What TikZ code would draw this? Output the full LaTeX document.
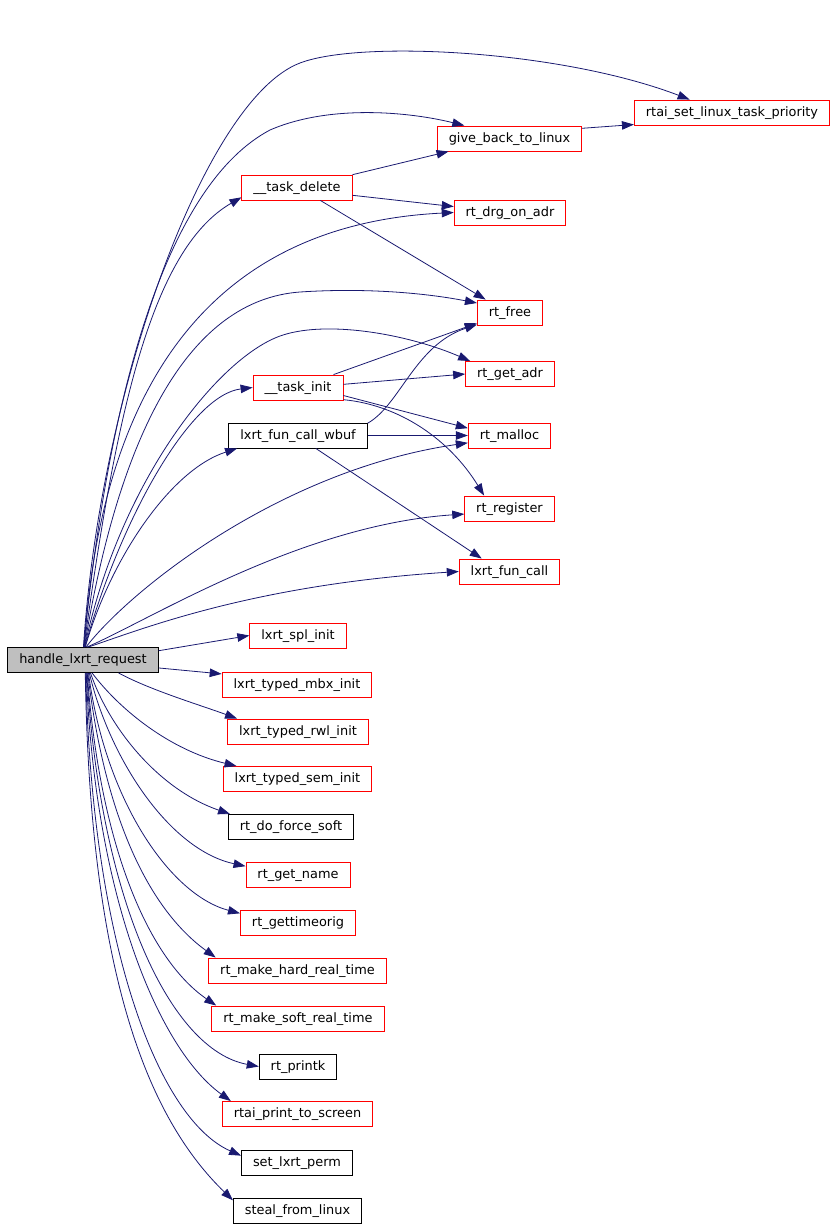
\documentclass[tikz,border=0pt]{standalone}
\usepackage{fontspec}
\setmainfont{DejaVu Sans}
\usetikzlibrary{arrows.meta}
\definecolor{CallEdge}{HTML}{191970}
\definecolor{CallTrunc}{HTML}{FF0000}
\definecolor{CallRoot}{HTML}{BFBFBF}
\definecolor{CallInk}{HTML}{000000}
\tikzset{
    cg/diagram/.style={
        x=1pt, y=-1pt,
        font=\fontsize{12.9}{15}\selectfont,
        line join=miter,
        every node/.style={inner sep=0pt}
    },
    cg/func/.style={
        draw=CallInk, fill=white, line width=0.9pt, rectangle,
        inner xsep=11.5pt, inner ysep=0pt, minimum height=25pt,
        text height=9.6pt, text depth=2.6pt
    },
    cg/trunc/.style={cg/func, draw=CallTrunc},
    cg/root/.style={cg/func, fill=CallRoot},
    cg/call/.style={
        draw=CallEdge, line width=0.8pt,
        -{Triangle[length=12pt, width=8.5pt]}
    }
}
\begin{document}
\begin{tikzpicture}[cg/diagram]
    \useasboundingbox (0,0) rectangle (837,1229);
    % caller
    \node[cg/root] (root) at (83,660) {handle\_lxrt\_request};
    % upper callees
    \node[cg/trunc] (rtaiset) at (732,112.5) {rtai\_set\_linux\_task\_priority};
    \node[cg/trunc] (giveback) at (509.5,138.5) {give\_back\_to\_linux};
    \node[cg/trunc] (taskdelete) at (297,187.5) {\_\_task\_delete};
    \node[cg/trunc] (rtdrg) at (510,212.5) {rt\_drg\_on\_adr};
    \node[cg/trunc] (rtfree) at (510,312.5) {rt\_free};
    \node[cg/trunc] (rtgetadr) at (510,374) {rt\_get\_adr};
    \node[cg/trunc] (taskinit) at (298,387.5) {\_\_task\_init};
    \node[cg/func] (wbuf) at (298,435.5) {lxrt\_fun\_call\_wbuf};
    \node[cg/trunc] (rtmalloc) at (509.5,435.5) {rt\_malloc};
    \node[cg/trunc] (rtregister) at (509.5,508.5) {rt\_register};
    \node[cg/trunc] (funcall) at (509.5,571.5) {lxrt\_fun\_call};
    % lower callees, one column
    \node[cg/trunc] (splinit) at (298,635.5) {lxrt\_spl\_init};
    \node[cg/trunc] (mbxinit) at (297,684.5) {lxrt\_typed\_mbx\_init};
    \node[cg/trunc] (rwlinit) at (298,731.5) {lxrt\_typed\_rwl\_init};
    \node[cg/trunc] (seminit) at (297.5,779) {lxrt\_typed\_sem\_init};
    \node[cg/func] (forcesoft) at (291,827) {rt\_do\_force\_soft};
    \node[cg/trunc] (getname) at (298,874.5) {rt\_get\_name};
    \node[cg/trunc] (timeorig) at (298,922.5) {rt\_gettimeorig};
    \node[cg/trunc] (makehard) at (297.5,970.5) {rt\_make\_hard\_real\_time};
    \node[cg/trunc] (makesoft) at (298,1018.5) {rt\_make\_soft\_real\_time};
    \node[cg/func] (printk) at (298,1066.5) {rt\_printk};
    \node[cg/trunc] (printscreen) at (297.5,1114) {rtai\_print\_to\_screen};
    \node[cg/func] (setperm) at (297,1162.5) {set\_lxrt\_perm};
    \node[cg/func] (steal) at (297.5,1210.5) {steal\_from\_linux};
    % calls going up from the caller
    \draw[cg/call] (root.88) .. controls (100,390) and (205,99) .. (300,63)
        .. controls (360,40) and (560,50) .. (rtaiset.163);
    \draw[cg/call] (root.87) .. controls (110,380) and (170,183) .. (270,130)
        .. controls (330,104) and (410,112) .. (giveback.164);
    \draw[cg/call] (root.86) .. controls (115,420) and (150,250) .. (taskdelete.190);
    \draw[cg/call] (root.85) .. controls (100,400) and (200,225) .. (rtdrg.west);
    \draw[cg/call] (root.84) .. controls (120,430) and (190,300) .. (300,292)
        .. controls (360,288) and (420,292) .. (rtfree.164);
    \draw[cg/call] (root.83) .. controls (120,480) and (220,355) .. (283,335)
        .. controls (330,320) and (410,335) .. (rtgetadr.162);
    \draw[cg/call] (root.82) .. controls (120,520) and (190,395) .. (taskinit.west);
    \draw[cg/call] (root.80) .. controls (110,560) and (170,470) .. (wbuf.192);
    \draw[cg/call] (root.77) .. controls (130,590) and (280,470) .. (rtmalloc.190);
    \draw[cg/call] (root.73) .. controls (150,620) and (300,525) .. (rtregister.187);
    \draw[cg/call] (root.68) .. controls (140,630) and (250,585) .. (funcall.west);
    % calls between callees
    \draw[cg/call] (giveback.8) -- (rtaiset.187);
    \draw[cg/call] (taskdelete.13) -- (giveback.192);
    \draw[cg/call] (taskdelete.352) -- (rtdrg.174);
    \draw[cg/call] (taskdelete.331) -- (rtfree.152);
    \draw[cg/call] (taskinit.20) -- (rtfree.198);
    \draw[cg/call] (taskinit.4) -- (rtgetadr.west);
    \draw[cg/call] (taskinit.350) -- (rtmalloc.170);
    \draw[cg/call] (taskinit.345) .. controls (400,405) and (450,440) .. (rtregister.153);
    \draw[cg/call] (wbuf.10) .. controls (400,405) and (415,345) .. (rtfree.200);
    \draw[cg/call] (wbuf.east) -- (rtmalloc.west);
    \draw[cg/call] (wbuf.324) -- (funcall.155);
    % calls going down from the caller
    \draw[cg/call] (root.7) -- (splinit.west);
    \draw[cg/call] (root.354) -- (mbxinit.172);
    \draw[cg/call] (root.340) .. controls (150,690) and (200,705) .. (rwlinit.168);
    \draw[cg/call] (root.305) .. controls (120,710) and (170,750) .. (seminit.168);
    \draw[cg/call] (root.300) .. controls (110,730) and (160,790) .. (forcesoft.168);
    \draw[cg/call] (root.296) .. controls (110,760) and (170,850) .. (getname.171);
    \draw[cg/call] (root.293) .. controls (105,800) and (170,895) .. (timeorig.171);
    \draw[cg/call] (root.290) .. controls (105,820) and (150,910) .. (makehard.171);
    \draw[cg/call] (root.288) .. controls (100,850) and (150,960) .. (makesoft.171);
    \draw[cg/call] (root.286) .. controls (100,900) and (170,1050) .. (printk.west);
    \draw[cg/call] (root.284) .. controls (95,900) and (160,1050) .. (printscreen.169);
    \draw[cg/call] (root.282) .. controls (92,950) and (160,1120) .. (setperm.173);
    \draw[cg/call] (root.280) .. controls (90,980) and (150,1120) .. (steal.171);
\end{tikzpicture}
\end{document}
